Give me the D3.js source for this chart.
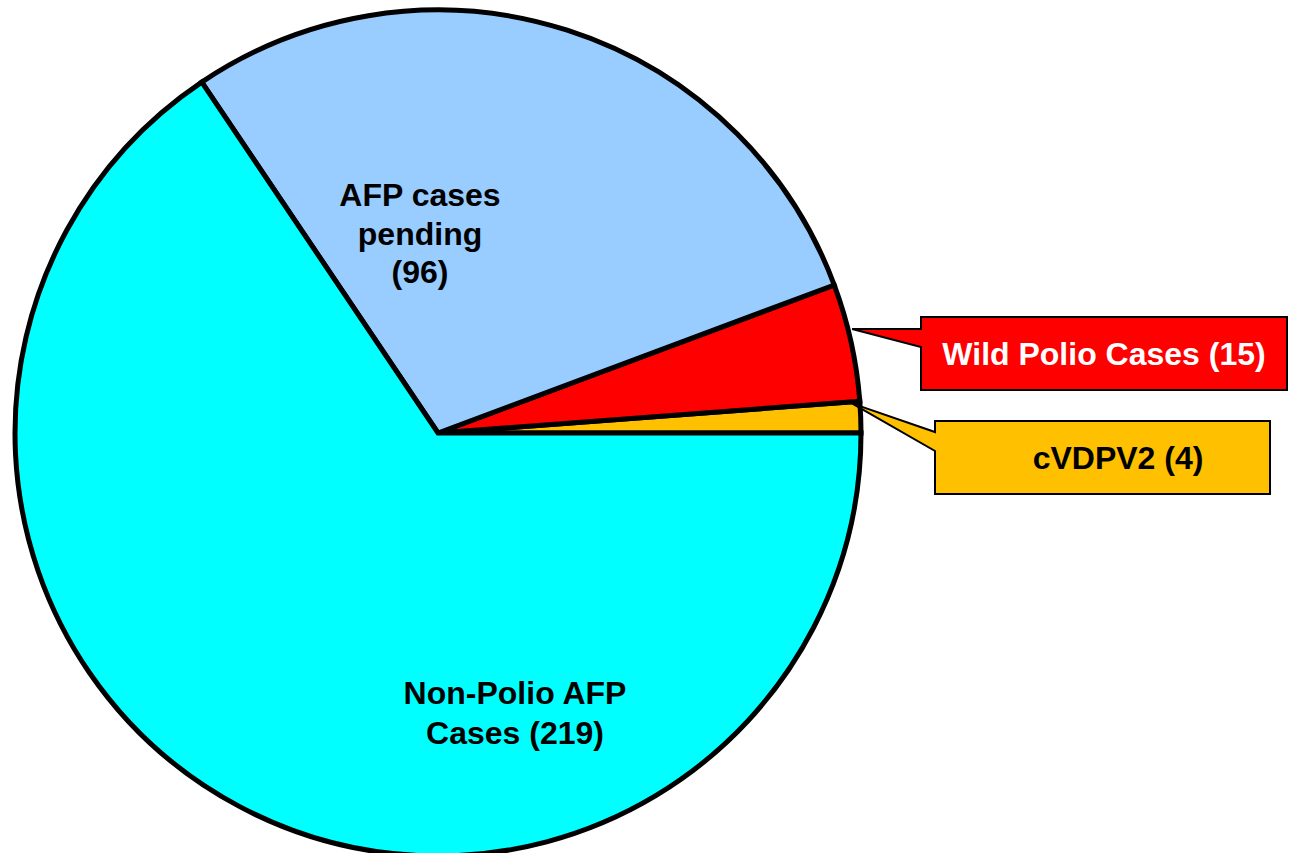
<!DOCTYPE html>
<html><head><meta charset="utf-8">
<script src="https://cdn.jsdelivr.net/npm/d3@7"></script>
<style>html,body{margin:0;padding:0;background:#fff;overflow:hidden}</style>
</head><body>
<svg id="c" width="1301" height="853"></svg>
<script>
const categories = ["cVDPV2", "Wild Polio Cases", "AFP cases pending", "Non-Polio AFP Cases"];
const values = [4, 15, 96, 219];
const colors = ["#FFC000", "#FF0000", "#99CCFF", "#00FFFF"];
const labelLines = [["cVDPV2 (4)"], ["Wild Polio Cases (15)"], ["AFP cases", "pending", "(96)"], ["Non-Polio AFP", "Cases (219)"]];

const W = 1301, H = 853;
const cx = 438, cy = 433, R = 423;
const svg = d3.select("#c");
const g = svg.append("g").attr("transform", `translate(${cx},${cy})`);

const pie = d3.pie().sort(null).value(d => d)
  .startAngle(Math.PI / 2).endAngle(Math.PI / 2 - 2 * Math.PI);
const arcs = pie(values);
const arc = d3.arc().innerRadius(0).outerRadius(R);

g.selectAll("path.slice").data(arcs).enter().append("path")
  .attr("class", "slice")
  .attr("d", arc)
  .attr("fill", (d, i) => colors[i])
  .attr("stroke", "#000").attr("stroke-width", 5).attr("stroke-linejoin", "miter");

const font = "'Liberation Sans', Arial, sans-serif";
const fs = 32;

// in-slice labels (index 2 and 3)
const inside = [{i: 2, x: -18, y0: -227, dy: 38.5}, {i: 3, x: 77, y0: 271, dy: 40}];
inside.forEach(p => {
  const t = g.append("text").attr("text-anchor", "middle")
    .attr("font-family", font).attr("font-weight", "bold").attr("font-size", fs).attr("fill", "#000");
  labelLines[p.i].forEach((ln, k) => {
    t.append("tspan").attr("x", p.x).attr("y", p.y0 + k * p.dy).text(ln);
  });
});

// callouts (index 1 and 0)
function pt(a, r) { return [Math.sin(a) * r, -Math.cos(a) * r]; }
const callouts = [
  {i: 1, bx: 921, by: 317, bw: 366, bh: 73, ty1: 329, ty2: 347, textFill: "#fff", frac: 0.605, rr: R + 4, tx: 1104},
  {i: 0, bx: 935, by: 421, bw: 335, bh: 73, ty1: 432, ty2: 451, textFill: "#000", frac: 0.95, rr: R - 8, tx: 1118}
];
callouts.forEach(c => {
  const a = arcs[c.i];
  const ang = a.startAngle + (a.endAngle - a.startAngle) * c.frac;
  const tip = pt(ang, c.rr);
  const tx = cx + tip[0], ty = cy + tip[1];
  svg.append("path")
    .attr("d", `M${c.bx},${c.by}H${c.bx + c.bw}V${c.by + c.bh}H${c.bx}V${c.ty2}L${tx},${ty}L${c.bx},${c.ty1}Z`)
    .attr("fill", colors[c.i]).attr("stroke", "#000").attr("stroke-width", 2).attr("stroke-linejoin", "miter");
  svg.append("text").attr("x", c.tx).attr("y", c.by + c.bh / 2 + 11.5)
    .attr("text-anchor", "middle").attr("font-family", font).attr("font-weight", "bold")
    .attr("font-size", fs).attr("fill", c.textFill).text(labelLines[c.i][0]);
});
</script>
</body></html>
